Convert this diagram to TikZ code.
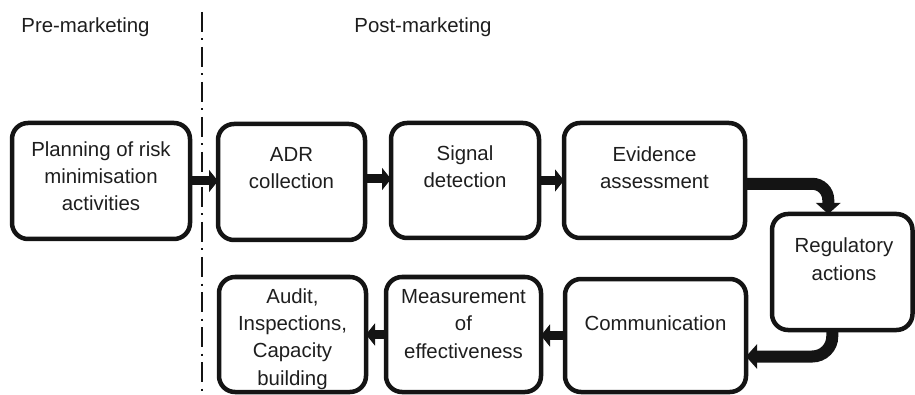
\documentclass[tikz,border=0pt]{standalone}
\usepackage{fontspec}
\setmainfont{Liberation Sans}
\usetikzlibrary{arrows.meta,calc}
\definecolor{ink}{HTML}{141414}
\definecolor{txtc}{HTML}{1E1E1E}
\begin{document}
\begin{tikzpicture}[x=1pt,y=-1pt,
  box/.style={draw=ink, line width=4.5pt, rounded corners=16pt, inner sep=0pt, outer sep=0pt},
  txt/.style={font=\fontsize{20.4}{27.2}\selectfont, text=txtc, align=center, inner sep=0pt, anchor=base},
  arr/.style={draw=ink, line width=9pt, -{Triangle[length=9pt,width=22pt]}},
  carr/.style={draw=ink, line width=12pt, -{Triangle[length=11pt,width=24pt]}},
  divider/.style={draw=ink, line width=1.8pt, dash pattern=on 20pt off 6.5pt on 2pt off 6.5pt}]
\useasboundingbox (0,0) rectangle (915,395);

% headers
\node[txt] (pre) at (85.5,33) {Pre-marketing};
\node[txt] (post) at (423,33) {Post-marketing};

% divider
\coordinate (dtop) at (202,12);
\coordinate (dbot) at (202,396);
\draw[divider] (dtop) -- (dbot);

% boxes
\node[box, minimum width=178pt, minimum height=116pt] (plan) at (101,181) {};
\node[box, minimum width=147pt, minimum height=116pt] (adr) at (291.5,182) {};
\node[box, minimum width=148pt, minimum height=115pt] (sig) at (465,180.5) {};
\node[box, minimum width=181pt, minimum height=115pt] (evid) at (654.5,180.5) {};
\node[box, minimum width=140.5pt, minimum height=116pt] (reg) at (842.25,272) {};
\node[box, minimum width=181pt, minimum height=113pt] (comm) at (655.5,335.5) {};
\node[box, minimum width=155pt, minimum height=115pt] (meas) at (463.5,334.5) {};
\node[box, minimum width=147pt, minimum height=115pt] (aud) at (292.5,334.5) {};

% texts (anchor base = baseline of the last line)
\node[txt] (tplan) at (101,211) {Planning of risk\\minimisation\\activities};
\node[txt] (tadr) at (291.5,189) {ADR\\collection};
\node[txt] (tsig) at (465,188) {Signal\\detection};
\node[txt] (tevid) at (654.5,188.5) {Evidence\\assessment};
\node[txt] (treg) at (844,280) {Regulatory\\actions};
\node[txt] (tcomm) at (655.5,330) {Communication};
\node[txt] (tmeas) at (463.5,358) {Measurement\\of\\effectiveness};
\node[txt] (taud) at (292.5,385) {Audit,\\Inspections,\\Capacity\\building};

% arrows
\draw[arr] (plan.east) -- (plan.east -| adr.west);
\draw[arr] ($(adr.east)+(0,-3)$) -- ($(adr.east -| sig.west)+(0,-3)$);
\draw[arr] (sig.east) -- (sig.east -| evid.west);
\draw[carr, rounded corners=16pt] ($(evid.east)+(0,3.3)$) -| ($(reg.north)+(-14,0)$);
\draw[carr, rounded corners=20pt] ($(reg.south)+(-10,0)$) |- ($(comm.east)+(0,21)$);
\draw[arr] (comm.west) -- (comm.west -| meas.east);
\draw[arr] (meas.west) -- (meas.west -| aud.east);
\end{tikzpicture}
\end{document}
